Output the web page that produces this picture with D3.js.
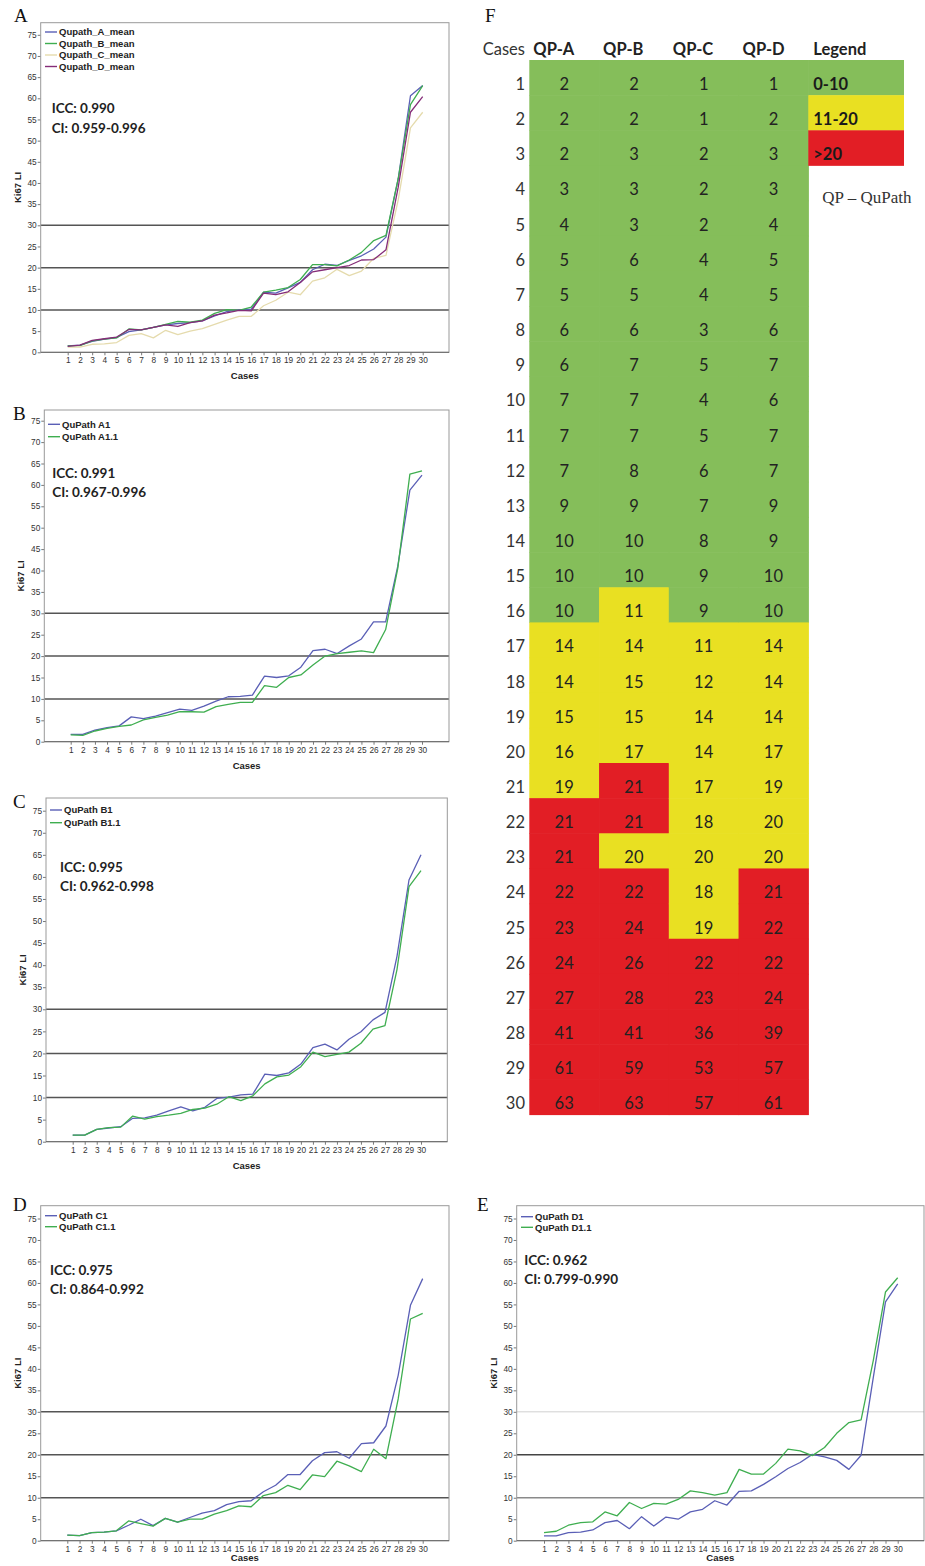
<!DOCTYPE html>
<html>
<head>
<meta charset="utf-8">
<script src="https://cdn.jsdelivr.net/npm/d3@7"></script>
<style>
  html, body { margin: 0; padding: 0; background: #fff; }
  svg { display: block; }
</style>
</head>
<body>
<svg id="fig" width="925" height="1566"></svg>
<script>
// ---------- data ----------
const cases = d3.range(1, 31);
const yTicks = d3.range(0, 80, 5);
const refLevels = [10, 20, 30];

// Panel A: mean Ki67 LI per QuPath operator
const qupathAMean = [1.5,1.7,2.6,3.1,3.5,4.9,5.3,5.9,6.5,6.8,7.0,7.4,8.6,9.6,10.0,10.2,14.2,14.0,15.2,16.5,19.5,20.8,20.5,21.7,22.8,24.4,27.2,41.0,60.6,63.0];
const qupathBMean = [1.5,1.6,2.7,3.1,3.4,5.5,5.3,5.9,6.6,7.3,7.1,7.6,9.2,10.1,9.9,10.7,14.2,14.7,15.3,17.2,20.7,20.7,20.4,21.8,23.6,26.4,27.6,41.0,58.5,63.0];
const qupathCMean = [1.2,1.2,1.9,2.0,2.3,4.0,4.4,3.4,5.2,4.2,5.0,5.6,6.6,7.6,8.5,8.5,11.0,12.3,14.2,13.6,16.8,17.6,19.6,18.1,19.2,22.2,22.9,36.0,53.0,56.7];
const qupathDMean = [1.4,1.7,2.8,3.2,3.6,5.4,5.3,5.9,6.5,6.1,7.0,7.4,8.8,9.3,9.9,9.8,14.0,13.6,14.3,16.5,19.0,19.5,20.0,20.5,21.8,21.9,24.2,39.0,56.7,60.4];

// Panel B: operator A, two runs
const qupathA1  = [1.7,1.7,2.7,3.3,3.7,5.8,5.4,6.0,6.8,7.6,7.3,8.3,9.5,10.5,10.6,10.9,15.3,15.0,15.4,17.4,21.3,21.6,20.6,22.4,24.0,28.0,28.0,41.0,58.8,62.3];
const qupathA11 = [1.6,1.5,2.5,3.1,3.6,3.9,5.1,5.7,6.2,7.0,7.0,6.9,8.2,8.7,9.2,9.2,13.1,12.7,15.0,15.6,17.9,20.0,20.6,20.9,21.2,20.8,26.2,40.5,62.5,63.3];

// Panel C: operator B, two runs
const qupathB1  = [1.5,1.5,2.8,3.1,3.4,5.3,5.4,6.0,7.0,7.9,7.0,7.8,9.8,10.1,10.6,10.8,15.3,15.0,15.6,17.6,21.3,22.1,20.8,23.2,24.9,27.6,29.3,42.0,59.3,65.0];
const qupathB11 = [1.5,1.5,2.8,3.2,3.3,5.8,5.1,5.7,6.0,6.4,7.3,7.6,8.5,10.2,9.3,10.4,13.1,14.7,15.1,17.0,20.3,19.3,19.8,20.3,22.3,25.5,26.3,39.0,57.8,61.4];

// Panel D: operator C, two runs
const qupathC1  = [1.3,1.2,1.9,2.0,2.3,3.6,5.0,3.5,5.2,4.3,5.4,6.4,7.0,8.4,9.1,9.3,11.4,12.9,15.4,15.4,18.6,20.5,20.7,19.2,22.6,22.8,26.7,38.5,54.8,61.0];
const qupathC11 = [1.3,1.2,1.9,2.0,2.3,4.6,4.0,3.4,5.2,4.3,5.0,5.0,6.2,7.0,8.1,7.9,10.5,11.2,12.9,11.9,15.3,14.9,18.5,17.4,16.1,21.3,19.1,33.0,51.6,52.9];

// Panel E: operator D, two runs
const qupathD1  = [1.1,1.1,1.9,2.0,2.5,4.2,4.7,2.8,5.6,3.4,5.5,5.0,6.7,7.3,9.3,8.3,11.5,11.6,13.1,14.9,16.8,18.2,20.1,19.5,18.7,16.6,19.9,38.0,55.6,59.8];
const qupathD11 = [1.9,2.2,3.6,4.2,4.4,6.7,5.8,8.9,7.5,8.7,8.5,9.6,11.6,11.2,10.6,11.2,16.6,15.5,15.5,18.0,21.3,20.9,19.8,21.7,25.0,27.5,28.1,42.0,57.9,61.2];

// Panel F: rounded Ki67 LI per operator
const tableColumns = ["QP-A", "QP-B", "QP-C", "QP-D"];
const tableQPA = [2,2,2,3,4,5,5,6,6,7,7,7,9,10,10,10,14,14,15,16,19,21,21,22,23,24,27,41,61,63];
const tableQPB = [2,2,3,3,3,6,5,6,7,7,7,8,9,10,10,11,14,15,15,17,21,21,20,22,24,26,28,41,59,63];
const tableQPC = [1,1,2,2,2,4,4,3,5,4,5,6,7,8,9,9,11,12,14,14,17,18,20,18,19,22,23,36,53,57];
const tableQPD = [1,2,3,3,4,5,5,6,7,6,7,7,9,9,10,10,14,14,14,17,19,20,20,21,22,22,24,39,57,61];
const legendLabels = ["0-10", "11-20", ">20"];
const legendSamples = [0, 11, 21];

// ---------- styles ----------
const BLUE = "#5a5fb6", GREEN = "#3fae50", BEIGE = "#e5dbad", PURPLE = "#852c78";
const bandColor = d3.scaleThreshold().domain([11, 21]).range(["#85be5a", "#e9e022", "#e21e25"]);

const svg = d3.select("#fig");
const FIG_H = 1566;

// ---------- line panels ----------
const panels = [
  { id: "A", box: [40.7, 22.7, 449, 352.3], x1: 67.7, x30: 422.7, y75: 34.8,
    label: [14, 22], legend: [45, 32, 11.5], stats: [51.7, 113, 19.7],
    icc: "ICC: 0.990", ci: "CI: 0.959-0.996",
    series: [
      { name: "Qupath_A_mean", values: qupathAMean, color: BLUE },
      { name: "Qupath_B_mean", values: qupathBMean, color: GREEN },
      { name: "Qupath_C_mean", values: qupathCMean, color: BEIGE },
      { name: "Qupath_D_mean", values: qupathDMean, color: PURPLE }],
    refStyle: ["#555", "#555", "#555"] },
  { id: "B", box: [44.3, 410, 449, 741.7], x1: 70.7, x30: 422, y75: 420.7,
    label: [13, 420], legend: [48, 424.3, 12.4], stats: [52.3, 478.3, 19],
    icc: "ICC: 0.991", ci: "CI: 0.967-0.996",
    series: [
      { name: "QuPath A1", values: qupathA1, color: BLUE },
      { name: "QuPath A1.1", values: qupathA11, color: GREEN }],
    refStyle: ["#555", "#555", "#555"] },
  { id: "C", box: [46, 798, 447.3, 1141.7], x1: 72.7, x30: 421, y75: 810.7,
    label: [13, 808], legend: [50, 810, 12.7], stats: [60, 871.7, 19.3],
    icc: "ICC: 0.995", ci: "CI: 0.962-0.998",
    series: [
      { name: "QuPath B1", values: qupathB1, color: BLUE },
      { name: "QuPath B1.1", values: qupathB11, color: GREEN }],
    refStyle: ["#555", "#555", "#555"] },
  { id: "D", box: [40.7, 1205.7, 449, 1540.7], x1: 67.3, x30: 422.7, y75: 1218.5,
    label: [13, 1211], legend: [45, 1215.7, 11], stats: [50, 1275, 19.3],
    icc: "ICC: 0.975", ci: "CI: 0.864-0.992",
    series: [
      { name: "QuPath C1", values: qupathC1, color: BLUE },
      { name: "QuPath C1.1", values: qupathC11, color: GREEN }],
    refStyle: ["#555", "#555", "#555"] },
  { id: "E", box: [516.7, 1205.7, 924, 1540.7], x1: 544, x30: 897.7, y75: 1218.5,
    label: [477, 1211], legend: [521, 1216.7, 10.6], stats: [524.3, 1265, 19],
    icc: "ICC: 0.962", ci: "CI: 0.799-0.990",
    series: [
      { name: "QuPath D1", values: qupathD1, color: BLUE },
      { name: "QuPath D1.1", values: qupathD11, color: GREEN }],
    refStyle: ["#8a8a8a", "#444", "#d0d0d0"] }
];

panels.forEach(p => {
  const [L, T, R, B] = p.box;
  const g = svg.append("g");
  const x = d3.scaleLinear().domain([1, 30]).range([p.x1, p.x30]);
  const y = d3.scaleLinear().domain([0, 75]).range([B, p.y75]);

  // panel letter
  g.append("text").attr("x", p.label[0]).attr("y", p.label[1])
    .attr("font-family", "Liberation Serif, Times New Roman, serif")
    .attr("font-size", 19).attr("fill", "#111").text(p.id);

  // reference lines
  g.selectAll("line.ref").data(refLevels).join("line").attr("class", "ref")
    .attr("x1", L).attr("x2", R)
    .attr("y1", d => y(d)).attr("y2", d => y(d))
    .attr("stroke", (d, i) => p.refStyle[i])
    .attr("stroke-width", (d, i) => p.refStyle[i] === "#d0d0d0" ? 1 : 1.5);

  // axes
  const ya = g.append("g").attr("transform", `translate(${L},0)`)
    .call(d3.axisLeft(y).tickValues(yTicks).tickSize(3).tickPadding(1));
  const xa = g.append("g").attr("transform", `translate(0,${B})`)
    .call(d3.axisBottom(x).tickValues(cases).tickSize(3).tickPadding(2));
  [ya, xa].forEach(a => {
    a.select(".domain").remove();
    a.selectAll(".tick line").attr("stroke", "#777");
    a.selectAll(".tick text").attr("fill", "#333")
      .attr("font-family", "Liberation Sans, Arial, sans-serif").attr("font-size", 8.3);
  });

  // frame
  g.append("rect").attr("x", L).attr("y", T).attr("width", R - L).attr("height", B - T)
    .attr("fill", "none").attr("stroke", "#999").attr("stroke-width", 1);
  g.append("line").attr("x1", L).attr("x2", R).attr("y1", B).attr("y2", B)
    .attr("stroke", "#666").attr("stroke-width", 1);

  // axis titles
  g.append("text").attr("x", (L + R) / 2).attr("y", Math.min(B + 27, FIG_H - 5))
    .attr("text-anchor", "middle")
    .attr("font-family", "Liberation Sans, Arial, sans-serif").attr("font-weight", "bold")
    .attr("font-size", 9.5).attr("fill", "#222").text("Cases");
  g.append("text")
    .attr("transform", `translate(${L - 20},${(T + B) / 2}) rotate(-90)`)
    .attr("text-anchor", "middle")
    .attr("font-family", "Liberation Sans, Arial, sans-serif").attr("font-weight", "bold")
    .attr("font-size", 9.5).attr("fill", "#222").text("Ki67 LI");

  // series lines
  const line = d3.line().x((d, i) => x(cases[i])).y(d => y(d));
  g.selectAll("path.series").data(p.series).join("path").attr("class", "series")
    .attr("d", s => line(s.values)).attr("fill", "none")
    .attr("stroke", s => s.color).attr("stroke-width", 1.3)
    .attr("stroke-linejoin", "round");

  // legend
  const [lx, ly, ldy] = p.legend;
  const lg = g.selectAll("g.leg").data(p.series).join("g").attr("class", "leg")
    .attr("transform", (s, i) => `translate(${lx},${ly + i * ldy})`);
  lg.append("line").attr("x1", 0).attr("x2", 12).attr("y1", 0).attr("y2", 0)
    .attr("stroke", s => s.color).attr("stroke-width", 1.4);
  lg.append("text").attr("x", 14).attr("y", 3.3)
    .attr("font-family", "Liberation Sans, Arial, sans-serif").attr("font-weight", "bold")
    .attr("font-size", 9.5).attr("fill", "#222").text(s => s.name);

  // agreement statistics
  const [sx, sy, sdy] = p.stats;
  [p.icc, p.ci].forEach((t, i) => {
    g.append("text").attr("x", sx).attr("y", sy + i * sdy)
      .attr("font-family", "Lato, Open Sans, sans-serif").attr("font-weight", "bold")
      .attr("font-size", 13.5).attr("fill", "#222").text(t);
  });
});

// ---------- panel F: colour-coded table ----------
const tableValues = [tableQPA, tableQPB, tableQPC, tableQPD];
const colX = d3.scaleBand().domain(tableColumns).range([529.3, 808.3]);
const rowY = d3.scaleBand().domain(cases).range([60, 1114.5]);
const tf = svg.append("g").attr("font-family", "Lato, Open Sans, sans-serif");

svg.append("text").attr("x", 485).attr("y", 22)
  .attr("font-family", "Liberation Serif, Times New Roman, serif")
  .attr("font-size", 19).attr("fill", "#111").text("F");

const cells = [];
tableColumns.forEach((c, ci) => cases.forEach((r, ri) =>
  cells.push({ col: c, row: r, value: tableValues[ci][ri] })));

tf.selectAll("rect.cell").data(cells).join("rect").attr("class", "cell")
  .attr("x", d => colX(d.col)).attr("y", d => rowY(d.row))
  .attr("width", colX.bandwidth() + 0.6).attr("height", rowY.bandwidth() + 0.6)
  .attr("fill", d => bandColor(d.value));

const baseOff = 30;
tf.selectAll("text.cell").data(cells).join("text").attr("class", "cell")
  .attr("x", d => colX(d.col) + colX.bandwidth() / 2).attr("y", d => rowY(d.row) + baseOff)
  .attr("text-anchor", "middle").attr("font-size", 16.5).attr("fill", "#222")
  .text(d => d.value);

tf.selectAll("text.rowlab").data(cases).join("text").attr("class", "rowlab")
  .attr("x", 525).attr("y", d => rowY(d) + baseOff).attr("text-anchor", "end")
  .attr("font-size", 16.5).attr("fill", "#333").text(d => d);

// header
tf.append("text").attr("x", 482.7).attr("y", 55).attr("font-size", 16.5)
  .attr("fill", "#333").text("Cases");
tf.selectAll("text.colhead").data(tableColumns).join("text").attr("class", "colhead")
  .attr("x", d => colX(d) + 4).attr("y", 55).attr("font-size", 16.5)
  .attr("font-weight", "bold").attr("fill", "#222").text(d => d);
tf.append("text").attr("x", 813.3).attr("y", 55).attr("font-size", 16.5)
  .attr("font-weight", "bold").attr("fill", "#222").text("Legend");

// legend column
const legRows = legendLabels.map((l, i) => ({ label: l, sample: legendSamples[i], row: cases[i] }));
tf.selectAll("rect.leg").data(legRows).join("rect").attr("class", "leg")
  .attr("x", 808.3).attr("y", d => rowY(d.row)).attr("width", 95.7)
  .attr("height", rowY.bandwidth() + 0.4).attr("fill", d => bandColor(d.sample));
tf.selectAll("text.leg").data(legRows).join("text").attr("class", "leg")
  .attr("x", 813.3).attr("y", d => rowY(d.row) + baseOff).attr("font-size", 16.5)
  .attr("font-weight", "bold").attr("fill", "#1a1a1a").text(d => d.label);

svg.append("text").attr("x", 822.3).attr("y", 203.3)
  .attr("font-family", "Liberation Serif, Times New Roman, serif")
  .attr("font-size", 17).attr("fill", "#333").text("QP \u2013 QuPath");
</script>
</body>
</html>
